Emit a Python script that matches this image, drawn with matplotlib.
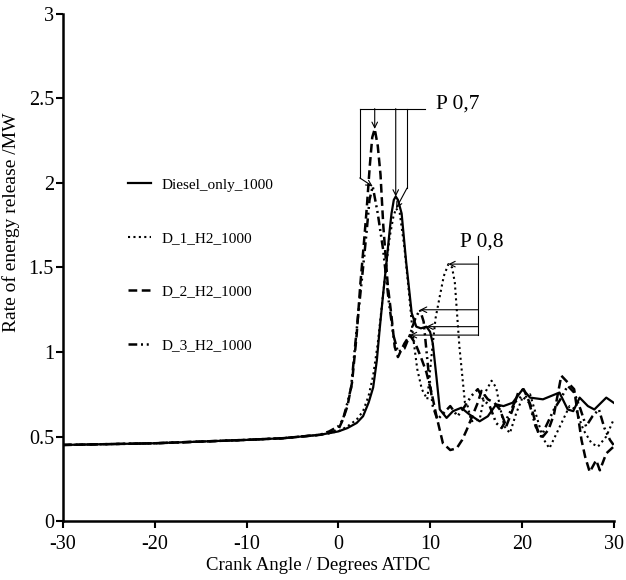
import numpy as np
import matplotlib
matplotlib.use('Agg')
import matplotlib.pyplot as plt

plt.rcParams['font.family'] = ['Liberation Serif', 'DejaVu Serif']

# Diesel only
ca_diesel = [-30, -25, -20, -15, -10, -6, -4, -2, 0, 1, 2, 2.7, 3.3, 3.8, 4.2, 4.5, 4.9,
             5.25, 5.6, 5.8, 6.05, 6.26, 6.5, 6.9, 7.4, 8.0, 8.5, 9.0, 9.6, 10.0, 10.3,
             10.7, 11.06, 11.8, 12.5, 13.4, 14.3, 15.4, 16.3, 17.2, 18.0, 19.0, 20.1,
             20.9, 22.3, 24.1, 25.0, 25.6, 26.3, 27.2, 27.9, 29.2, 30]
diesel = [0.45, 0.455, 0.46, 0.47, 0.48, 0.49, 0.5, 0.51, 0.53, 0.55, 0.58, 0.62, 0.7,
          0.79, 0.95, 1.13, 1.35, 1.53, 1.72, 1.82, 1.9, 1.92, 1.9, 1.82, 1.53, 1.23,
          1.15, 1.14, 1.15, 1.12, 1.05, 0.85, 0.66, 0.61, 0.65, 0.67, 0.63, 0.59, 0.62,
          0.69, 0.68, 0.70, 0.78, 0.73, 0.72, 0.76, 0.66, 0.65, 0.73, 0.68, 0.66, 0.73, 0.70]

# D_1_H2
ca_d1 = [-30, -25, -20, -15, -10, -6, -4, -2, 0, 1, 2, 2.7, 3.3, 3.8, 4.3, 4.8, 5.2, 5.6,
         6.0, 6.3, 6.7, 7.2, 7.7, 8.15, 8.6, 9.1, 9.7, 10.2, 10.6, 11.06, 11.5, 12.0,
         12.4, 12.7, 13.2, 13.8, 14.1, 14.5, 15.4, 16.0, 16.7, 17.2, 17.6, 18.1, 18.7,
         19.4, 20.0, 20.9, 21.6, 22.3, 23.0, 23.8, 24.5, 25.2, 25.9, 26.7, 27.6, 28.3,
         29.2, 30]
d1 = [0.45, 0.455, 0.46, 0.47, 0.48, 0.49, 0.5, 0.51, 0.53, 0.56, 0.6, 0.65, 0.74, 0.86,
      1.05, 1.3, 1.5, 1.68, 1.8, 1.85, 1.82, 1.62, 1.35, 1.09, 0.9, 0.78, 0.72, 1.0, 1.2,
      1.33, 1.45, 1.52, 1.5, 1.41, 1.03, 0.70, 0.68, 0.59, 0.60, 0.76, 0.83, 0.79, 0.68,
      0.56, 0.52, 0.64, 0.72, 0.75, 0.62, 0.49, 0.43, 0.52, 0.60, 0.68, 0.66, 0.54, 0.46,
      0.44, 0.50, 0.60]

# D_2_H2
ca_d2 = [-30, -25, -20, -15, -10, -6, -4, -2, -1, 0, 0.5, 1.0, 1.5, 2.0, 2.4, 2.8, 3.1,
         3.43, 3.7, 3.97, 4.3, 4.6, 4.9, 5.4, 5.8, 6.15, 6.5, 7.2, 7.8, 8.4, 9.0, 9.6,
         10.2, 10.7, 11.4, 12.2, 12.9, 13.5, 14.0, 14.6, 15.2, 15.6, 16.3, 17.0, 17.6,
         18.3, 19.0, 19.6, 20.2, 21.0, 21.8, 22.3, 22.9, 23.5, 24.3, 25.0, 25.7, 26.5,
         26.9, 27.4, 28.1, 28.5, 29.2, 30]
d2 = [0.45, 0.455, 0.46, 0.47, 0.48, 0.49, 0.5, 0.51, 0.52, 0.54, 0.6, 0.68, 0.82, 1.1,
      1.4, 1.65, 1.85, 2.1, 2.27, 2.32, 2.22, 2.05, 1.75, 1.39, 1.21, 1.03, 0.97, 1.05,
      1.10, 1.05, 0.97, 0.88, 0.75, 0.62, 0.46, 0.42, 0.43, 0.48, 0.54, 0.62, 0.70, 0.77,
      0.72, 0.70, 0.66, 0.56, 0.66, 0.76, 0.78, 0.68, 0.52, 0.50, 0.54, 0.63, 0.86, 0.82,
      0.78, 0.48, 0.38, 0.29, 0.36, 0.30, 0.40, 0.44]

# D_3_H2
ca_d3 = [-30, -25, -20, -15, -10, -6, -4, -2, -1, 0, 0.5, 1.0, 1.4, 2.0, 2.7, 3.1, 3.4,
         3.75, 4.3, 4.9, 5.5, 6.0, 6.5, 7.2, 7.8, 8.4, 8.9, 9.3, 9.8, 10.3, 10.8, 11.5,
         12.2, 13.0, 13.8, 14.5, 15.2, 15.8, 16.5, 17.2, 17.8, 18.5, 19.2, 20.0, 20.8,
         21.5, 22.1, 22.8, 23.5, 24.2, 25.0, 25.7, 26.4, 27.0, 27.7, 28.4, 29.0, 29.6, 30]
d3 = [0.45, 0.455, 0.46, 0.47, 0.48, 0.49, 0.5, 0.51, 0.53, 0.56, 0.6, 0.7, 0.79, 1.13,
      1.5, 1.72, 1.9, 1.98, 1.82, 1.6, 1.3, 1.1, 1.0, 1.02, 1.1, 1.2, 1.25, 1.18, 0.9,
      0.68, 0.60, 0.64, 0.68, 0.62, 0.68, 0.74, 0.78, 0.72, 0.68, 0.58, 0.55, 0.62, 0.70,
      0.74, 0.70, 0.56, 0.50, 0.58, 0.66, 0.72, 0.80, 0.76, 0.66, 0.56, 0.62, 0.66, 0.55,
      0.48, 0.45]

labels = ['Diesel_only_1000', 'D_1_H2_1000', 'D_2_H2_1000', 'D_3_H2_1000']


def peak(x, y, lo=-100, hi=100):
    x = np.array(x)
    y = np.array(y)
    m = (x >= lo) & (x <= hi)
    i = np.argmax(np.where(m, y, -1))
    return x[i], y[i]


fig = plt.figure(figsize=(6.26, 5.8), dpi=100)
ax = fig.add_axes([0.1006, 0.1017, 0.8796, 0.8742])

ax.plot(ca_diesel, diesel, color='black', lw=1.6, ls='-', label=labels[0])
ax.plot(ca_d1, d1, color='black', lw=1.5, ls=(0, (1, 1.6)), label=labels[1])
ax.plot(ca_d2, d2, color='black', lw=1.8, ls=(0, (3.5, 1.8)), label=labels[2])
ax.plot(ca_d3, d3, color='black', lw=1.8, ls=(0, (3.5, 1.5, 0.8, 1.5, 0.8, 1.5)), label=labels[3])

# P 0,7 annotation (main peaks)
arr = dict(arrowstyle='->', color='black', lw=0.8, shrinkA=0, shrinkB=0)
ytop = 2.44
p_d3 = peak(ca_d3, d3)
p_d2 = peak(ca_d2, d2)
p_ds = peak(ca_diesel, diesel)
p_d1 = peak(ca_d1, d1, hi=9)
ax.plot([2.34, 9.42], [ytop, ytop], color='black', lw=0.8)
ax.plot([2.34, 2.34], [ytop, 2.03], color='black', lw=0.8)
ax.annotate('', xy=p_d3, xytext=(2.34, 2.03), arrowprops=arr)
ax.annotate('', xy=p_d2, xytext=(p_d2[0], ytop), arrowprops=arr)
ax.annotate('', xy=p_ds, xytext=(p_ds[0], ytop), arrowprops=arr)
ax.plot([7.49, 7.49], [ytop, 1.97], color='black', lw=0.8)
ax.annotate('', xy=p_d1, xytext=(7.49, 1.97), arrowprops=arr)
ax.text(10.6, 2.465, 'P 0,7', fontsize=15.5, va='center', ha='left')

# P 0,8 annotation (second peaks)
xv = 15.2
t_d1 = peak(ca_d1, d1, lo=10, hi=14)
t_d3 = peak(ca_d3, d3, lo=8, hi=9.5)
t_ds = peak(ca_diesel, diesel, lo=9, hi=10)
t_d2 = peak(ca_d2, d2, lo=7, hi=9)
ax.plot([xv, xv], [1.57, t_d2[1]], color='black', lw=0.8)
for t in [t_d1, t_d3, t_ds, t_d2]:
    ax.annotate('', xy=t, xytext=(xv, t[1]), arrowprops=arr)
ax.text(15.6, 1.65, 'P 0,8', fontsize=15.5, va='center', ha='center')

ax.set_xlim(-30, 30)
ax.set_ylim(0, 3)
ax.set_xticks(np.arange(-30, 31, 10))
ax.set_yticks([0, 0.5, 1, 1.5, 2, 2.5, 3])
ax.set_yticklabels(['0', '0.5', '1', '1.5', '2', '2.5', '3'])
ax.set_xticklabels(['-30', '-20', '-10', '0', '10', '20', '30'])
ax.tick_params(direction='out', length=5, width=1.5, labelsize=14.5)
ax.tick_params(axis='y', pad=1.5)
ax.tick_params(axis='x', pad=5)
for s in ['top', 'right']:
    ax.spines[s].set_visible(False)
for s in ['left', 'bottom']:
    ax.spines[s].set_linewidth(1.8)

ax.set_xlabel('Crank Angle / Degrees ATDC', fontsize=13.5)
ax.xaxis.set_label_coords(0.463, -0.07)
ax.set_ylabel('Rate of energy release /MW', fontsize=14)
ax.yaxis.set_label_coords(-0.078, 0.59)

ax.legend(loc='center left', bbox_to_anchor=(0.118, 0.505), frameon=False,
          fontsize=11, handlelength=1.5, handletextpad=0.7, labelspacing=2.6,
          borderpad=0, borderaxespad=0)

fig.savefig('out.png', dpi=100)
